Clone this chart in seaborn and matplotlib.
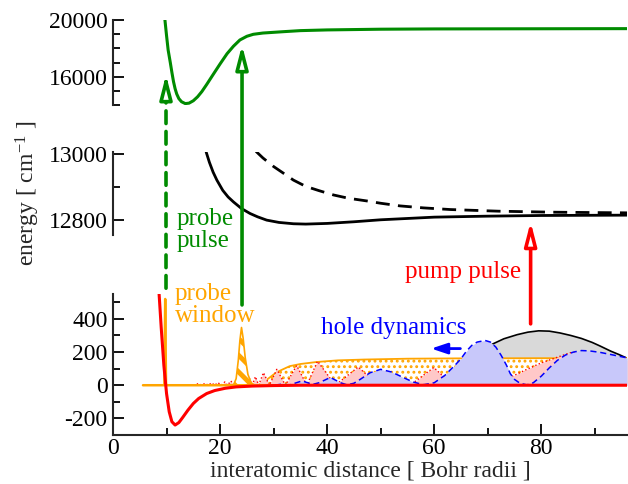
import matplotlib
matplotlib.use('Agg')
import matplotlib.pyplot as plt
import seaborn as sns
import numpy as np
from matplotlib.patches import ConnectionPatch
from matplotlib.ticker import MultipleLocator

# ---------------- data ----------------
# upper (probe) potential, cm^-1
green_x = [9.7, 10.0, 10.3, 10.7, 11.0, 11.3, 11.6, 11.9, 12.3, 12.8, 13.5, 14.2, 15.0, 15.8,
           16.6, 17.5, 18.7, 20.0, 21.3, 22.5, 23.7, 25.0, 26.2, 28.0, 31.8, 35.0, 40.0, 50.0,
           60.0, 96.0]
green_y = [20000, 18900, 17880, 17000, 16300, 15650, 15150, 14780, 14450, 14230, 14100, 14130,
           14300, 14580, 14950, 15450, 16150, 16900, 17620, 18150, 18590, 18850, 18990, 19080,
           19175, 19250, 19300, 19350, 19370, 19390]
# middle potentials, cm^-1
solid_x = [17.4, 18.0, 18.7, 19.4, 20.5, 21.5, 22.5, 24.0, 25.6, 27.0, 28.7, 31.0, 33.7, 36.0,
           40.0, 45.0, 50.0, 55.0, 60.0, 70.0, 80.0, 96.0]
solid_y = [13006, 12975, 12945, 12921, 12890, 12870, 12855, 12835, 12820, 12810, 12800, 12793,
           12789, 12788, 12790, 12795, 12801, 12805, 12809, 12812, 12814, 12815]
dash_x = [26.7, 28.0, 30.0, 32.0, 33.7, 36.0, 38.5, 41.2, 44.0, 47.4, 50.0, 53.6, 58.0, 63.0,
          72.0, 82.0, 96.0]
dash_y = [13008, 12988, 12962, 12940, 12921, 12902, 12889, 12876, 12866, 12858, 12851, 12843,
          12837, 12832, 12827, 12824, 12822]
# lower panel
pot_x = [8.6, 9.0, 9.5, 10.0, 10.5, 11.0, 11.6, 12.3, 13.0, 14.0, 15.0, 16.0, 17.5, 19.0, 21.0,
         23.0, 26.0, 30.0, 35.0, 96.0]
pot_y = [555, 350, 120, -50, -160, -220, -240, -225, -195, -150, -110, -80, -50, -32, -18, -10,
         -5, -2, 0, 0]
spike_x = [5.6, 9.6, 9.75, 9.9, 30.0]
spike_y = [0, 0, 520, 0, 0]
gauss_x = [22.5, 23.0, 23.4, 23.7, 24.0, 24.3, 24.7, 25.2, 25.8, 26.5]
gauss_y = [0, 40, 150, 270, 348, 285, 165, 65, 15, 0]
env_x = [27.0, 28.0, 29.0, 30.0, 31.0, 32.0, 33.0, 35.0, 38.0, 42.0, 47.0, 55.0, 65.0, 80.0, 96.0]
env_y = [0, 15, 40, 65, 85, 100, 115, 128, 140, 150, 155, 160, 162, 163, 163]
pink_x = [15.0, 16.0, 16.6, 17.2, 17.8, 18.4, 19.0, 19.6, 20.2, 20.9, 21.4, 22.0, 22.6, 23.3,
          23.9, 24.5, 25.0, 25.5, 26.0, 26.6, 27.2, 28.1, 29.2, 30.6, 32.2, 34.3, 36.2, 38.2,
          41.5, 45.8, 49.5, 52.5, 55.5, 59.9, 63.5, 70.0, 74.0, 77.3, 80.0, 85.4, 88.0, 92.0, 96.0]
pink_y = [0, 10, 0, 12, 0, 14, 0, 16, 0, 20, 0, 26, 0, 30,
          0, 34, 0, 40, 0, 52, 0, 76, 0, 96, 0, 119, 0, 145,
          0, 110, 0, 40, 0, 107, 0, 0, 45, 96, 135, 196, 195, 170, 150]
hole_x = [8.0, 30.0, 31.5, 33.0, 35.3, 37.3, 38.5, 40.6, 42.5, 43.7, 45.0, 46.2, 48.0, 50.0,
          52.0, 54.0, 56.0, 58.0, 60.0, 62.0, 64.0, 65.0, 66.0, 67.0, 68.0, 69.5, 70.5, 71.5,
          72.5, 73.5, 74.2, 75.0, 76.0, 77.3, 78.5, 80.0, 81.5, 83.0, 84.5, 86.0, 87.5, 89.0,
          91.0, 93.0, 96.0]
hole_y = [0, 0, 6, 2, 26, 5, 15, 47, 15, 2, 12, 36, 75, 96,
          80, 50, 20, 3, 15, 60, 125, 160, 205, 240, 260, 270, 260, 230,
          180, 120, 70, 35, 12, 2, 15, 55, 105, 150, 182, 200, 209, 207,
          198, 185, 165]
gray_x = [62.0, 66.0, 69.0, 71.0, 73.0, 75.5, 77.5, 79.5, 81.5, 83.5, 85.5, 87.5, 89.5, 91.0,
          93.0, 94.5, 96.0]
gray_y = [100, 170, 220, 250, 280, 305, 320, 328, 326, 315, 300, 282, 258, 236, 205, 185, 163]

# arrows: x position, start (lower panel data), end (upper panels data)
probe_dashed = (9.9, 585, 16120)
probe_solid = (24.1, 484, 18235)
pump = (78.0, 370, 12795)
hole_arrow = ((65.4, 221), (58.9, 221))

GREEN = '#008b00'
ORANGE = '#ffa500'
RED = '#ff0000'
BLUE = '#0000ff'

# ---------------- style ----------------
sns.set_theme(style='ticks')
plt.rcParams['font.family'] = ['Liberation Serif', 'DejaVu Serif']
plt.rcParams['mathtext.default'] = 'regular'
plt.rcParams['axes.unicode_minus'] = False
plt.rcParams['hatch.linewidth'] = 1.0

W, H = 628, 484
fig = plt.figure(figsize=(W / 100, H / 100), dpi=100)

def fx(px):
    return px / W

def fy(py):
    return 1 - py / H

left = fx(113)
width = fx(627) - left
ax_top = fig.add_axes([left, fy(105), width, (105 - 20) / H])
ax_mid = fig.add_axes([left, fy(235), width, (235 - 152) / H])
ax_bot = fig.add_axes([left, fy(435), width, (435 - 294) / H])

for ax in (ax_top, ax_mid, ax_bot):
    ax.set_xlim(0, 96)
    ax.patch.set_alpha(0)
    for s in ('top', 'right'):
        ax.spines[s].set_visible(False)
    ax.spines['left'].set_linewidth(1.5)
    ax.spines['bottom'].set_linewidth(1.5)
    ax.tick_params(which='both', direction='in', width=1.3, labelsize=17, colors='black', pad=4)
    ax.tick_params(which='major', length=8)
    ax.tick_params(which='minor', length=5)

for ax in (ax_top, ax_mid):
    ax.spines['bottom'].set_visible(False)
    ax.set_xticks([])

ax_top.set_ylim(14000, 20000)
ax_top.yaxis.set_major_locator(MultipleLocator(4000))
ax_top.yaxis.set_minor_locator(MultipleLocator(1000))
ax_mid.set_ylim(12755, 13006)
ax_mid.yaxis.set_major_locator(MultipleLocator(200))
ax_mid.yaxis.set_minor_locator(MultipleLocator(100))
ax_bot.set_ylim(-300, 550)
ax_bot.yaxis.set_major_locator(MultipleLocator(200))
ax_bot.yaxis.set_minor_locator(MultipleLocator(100))
ax_bot.xaxis.set_major_locator(MultipleLocator(20))
ax_bot.xaxis.set_minor_locator(MultipleLocator(10))
ax_bot.tick_params(axis='x', pad=2.5)

# ---------------- curves ----------------
sns.lineplot(x=green_x, y=green_y, ax=ax_top, color=GREEN, lw=2.2, sort=False, estimator=None)
sns.lineplot(x=solid_x, y=solid_y, ax=ax_mid, color='black', lw=2.0, sort=False, estimator=None)
sns.lineplot(x=dash_x, y=dash_y, ax=ax_mid, color='black', lw=2.0, sort=False, estimator=None)
ax_mid.lines[-1].set_dashes((5, 3))

# lower panel fills
ax_bot.fill_between(gray_x, gray_y, 0, color='#d9d9d9', lw=0, zorder=1)
sns.lineplot(x=gray_x, y=gray_y, ax=ax_bot, color='black', lw=1.2, sort=False, estimator=None,
             zorder=1.1)
with plt.rc_context({'hatch.linewidth': 1.3}):
    env = ax_bot.fill_between(env_x, env_y, 0, facecolor='white', edgecolor=ORANGE,
                              hatch='...', lw=0, zorder=2)
sns.lineplot(x=env_x, y=env_y, ax=ax_bot, color=ORANGE, lw=1.3, sort=False, estimator=None,
             zorder=2.1)
ax_bot.fill_between(pink_x, pink_y, 0, color='#ffc8c8', lw=0, zorder=3)
sns.lineplot(x=pink_x, y=pink_y, ax=ax_bot, color=RED, lw=1.0, sort=False, estimator=None,
             zorder=3.1)
ax_bot.lines[-1].set_linestyle(':')
ax_bot.fill_between(hole_x, hole_y, 0, color='#c8c8fa', lw=0, zorder=4)
sns.lineplot(x=hole_x, y=hole_y, ax=ax_bot, color=BLUE, lw=1.1, sort=False, estimator=None,
             zorder=4.1)
ax_bot.lines[-1].set_dashes((4, 2.5))
with plt.rc_context({'hatch.linewidth': 3.5}):
    g = ax_bot.fill_between(gauss_x, gauss_y, 0, facecolor='white', edgecolor=ORANGE,
                            hatch='\\\\', lw=0, zorder=5)
sns.lineplot(x=gauss_x, y=gauss_y, ax=ax_bot, color=ORANGE, lw=1.2, sort=False, estimator=None,
             zorder=5.1)
sns.lineplot(x=spike_x, y=spike_y, ax=ax_bot, color=ORANGE, lw=1.8, sort=False, estimator=None,
             zorder=5.5)
sns.lineplot(x=pot_x, y=pot_y, ax=ax_bot, color=RED, lw=2.2, sort=False, estimator=None, zorder=6)

# ---------------- arrows ----------------
head = '-|>,head_length=0.7,head_width=0.18'

def vert_arrow(xpos, y0, y1, ax_end, color, dashed=False):
    if dashed:
        line = ConnectionPatch(xyA=(xpos, y0), coordsA=ax_bot.transData,
                               xyB=(xpos, y1 - 900), coordsB=ax_end.transData,
                               arrowstyle='-', color=color, lw=2.6,
                               linestyle=(0, (3.5, 2.2)), zorder=10)
        fig.add_artist(line)
        hd = ConnectionPatch(xyA=(xpos, y1 - 900), coordsA=ax_end.transData,
                             xyB=(xpos, y1), coordsB=ax_end.transData,
                             arrowstyle=head, mutation_scale=20, lw=2.6,
                             ec=color, fc='white', zorder=10)
        fig.add_artist(hd)
    else:
        arr = ConnectionPatch(xyA=(xpos, y0), coordsA=ax_bot.transData,
                              xyB=(xpos, y1), coordsB=ax_end.transData,
                              arrowstyle=head, mutation_scale=20, lw=2.6,
                              ec=color, fc='white', zorder=10)
        fig.add_artist(arr)

vert_arrow(probe_dashed[0], probe_dashed[1], probe_dashed[2], ax_top, GREEN, dashed=True)
vert_arrow(probe_solid[0], probe_solid[1], probe_solid[2], ax_top, GREEN)
vert_arrow(pump[0], pump[1], pump[2], ax_mid, RED)

ax_bot.annotate('', xy=hole_arrow[1], xytext=hole_arrow[0],
                arrowprops=dict(arrowstyle='-|>,head_length=0.6,head_width=0.2',
                                mutation_scale=16, color=BLUE, lw=2.0), zorder=10,
                annotation_clip=False)

# ---------------- text ----------------
fig.text(fx(177), fy(230), 'probe\npulse', color=GREEN, fontsize=18, ha='left', va='center',
         linespacing=0.95)
fig.text(fx(175), fy(305), 'probe\nwindow', color=ORANGE, fontsize=18, ha='left', va='center',
         linespacing=0.95)
fig.text(fx(405), fy(272), 'pump pulse', color=RED, fontsize=18, ha='left', va='center')
fig.text(fx(321), fy(328), 'hole dynamics', color=BLUE, fontsize=18, ha='left', va='center')
fig.text(fx(28), fy(193), 'energy [ cm$^{-1}$ ]', rotation=90, fontsize=17, ha='center',
         va='center')
ax_bot.set_xlabel('interatomic distance [ Bohr radii ]', fontsize=17, labelpad=0.5)

fig.savefig('out.png', dpi=100)
